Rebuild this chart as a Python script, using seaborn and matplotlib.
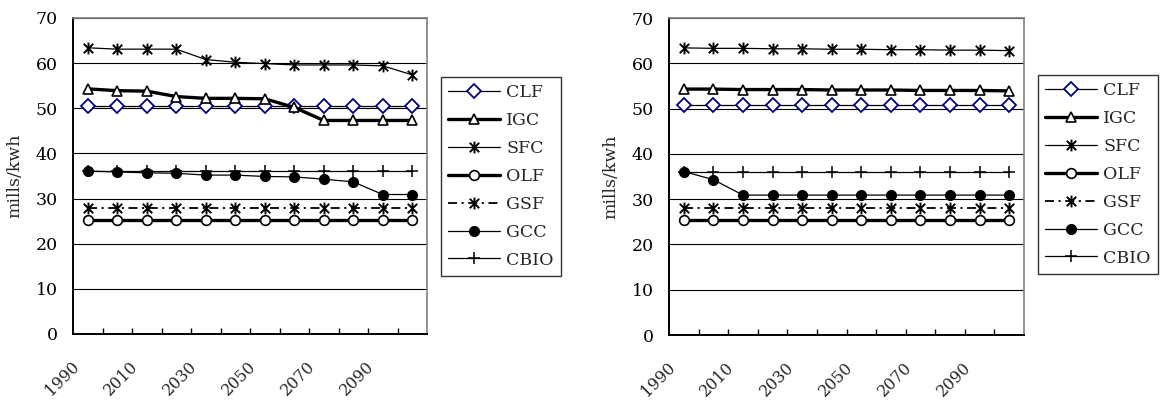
import matplotlib
matplotlib.use("Agg")
import matplotlib.pyplot as plt
from matplotlib.path import Path
from matplotlib.transforms import ScaledTranslation
import numpy as np
import pandas as pd
import seaborn as sns

# Decades on the category axis
years = [1990, 2000, 2010, 2020, 2030, 2040, 2050, 2060, 2070, 2080, 2090, 2100]
year_labels = ["1990", "", "2010", "", "2030", "", "2050", "", "2070", "", "2090", ""]
series_names = ["CLF", "IGC", "SFC", "OLF", "GSF", "GCC", "CBIO"]

# Left panel (mills/kwh)
clf_a = [50.6, 50.6, 50.6, 50.6, 50.6, 50.6, 50.6, 50.6, 50.6, 50.6, 50.6, 50.6]
igc_a = [54.3, 53.9, 53.8, 52.6, 52.2, 52.2, 52.1, 50.2, 47.3, 47.3, 47.3, 47.3]
sfc_a = [63.4, 63.1, 63.1, 63.1, 60.8, 60.2, 59.9, 59.6, 59.6, 59.6, 59.4, 57.4]
olf_a = [25.3, 25.3, 25.3, 25.3, 25.3, 25.3, 25.3, 25.3, 25.3, 25.3, 25.3, 25.3]
gsf_a = [28.0, 28.0, 28.0, 28.0, 28.0, 28.0, 28.0, 28.0, 28.0, 28.0, 28.0, 28.0]
gcc_a = [36.1, 35.9, 35.7, 35.6, 35.2, 35.2, 34.9, 34.8, 34.3, 33.7, 30.9, 30.9]
cbio_a = [36.1, 36.1, 36.1, 36.1, 36.1, 36.1, 36.1, 36.1, 36.1, 36.1, 36.1, 36.1]

# Right panel (mills/kwh)
clf_b = [50.7, 50.7, 50.7, 50.7, 50.7, 50.7, 50.7, 50.7, 50.7, 50.7, 50.7, 50.7]
igc_b = [54.3, 54.3, 54.2, 54.2, 54.2, 54.1, 54.1, 54.1, 54.0, 54.0, 54.0, 53.9]
sfc_b = [63.4, 63.3, 63.3, 63.2, 63.2, 63.1, 63.1, 63.0, 63.0, 62.9, 62.9, 62.8]
olf_b = [25.3, 25.3, 25.3, 25.3, 25.3, 25.3, 25.3, 25.3, 25.3, 25.3, 25.3, 25.3]
gsf_b = [28.0, 28.0, 28.0, 28.0, 28.0, 28.0, 28.0, 28.0, 28.0, 28.0, 28.0, 28.0]
gcc_b = [36.1, 34.3, 30.9, 30.9, 30.9, 30.9, 30.9, 30.9, 30.9, 30.9, 30.9, 30.9]
cbio_b = [36.1, 36.1, 36.1, 36.1, 36.1, 36.1, 36.1, 36.1, 36.1, 36.1, 36.1, 36.1]

y_ticks = [0, 10, 20, 30, 40, 50, 60, 70]

sns.set_theme(style="white")
plt.rcParams["font.family"] = ["DejaVu Serif"]
plt.rcParams["font.size"] = 12.5

# Star marker: an "x" with a vertical stroke through it
star = Path(
    [(-1, -1), (1, 1), (-1, 1), (1, -1), (0, -1.25), (0, 1.25)],
    [Path.MOVETO, Path.LINETO, Path.MOVETO, Path.LINETO, Path.MOVETO, Path.LINETO],
)

styles = {
    "CLF": dict(color="black", lw=0.9, marker="D", ms=7, mfc="white", mec="#000080", mew=1.3),
    "IGC": dict(color="black", lw=2.4, marker="^", ms=7.5, mfc="white", mec="black", mew=1.2),
    "SFC": dict(color="black", lw=0.9, marker=star, ms=8.5, mfc="black", mec="black", mew=1.4),
    "OLF": dict(color="black", lw=2.4, marker="o", ms=7, mfc="white", mec="black", mew=1.2),
    "GSF": dict(color="black", lw=1.3, ls=(0, (5, 2.5, 1.2, 2.5)), marker=star, ms=8.5,
                mfc="black", mec="black", mew=1.4),
    "GCC": dict(color="black", lw=0.9, marker="o", ms=7, mfc="black", mec="black", mew=1.0),
    "CBIO": dict(color="black", lw=0.9, marker="+", ms=8, mfc="black", mec="black", mew=1.1),
}

panels = [
    (dict(CLF=clf_a, IGC=igc_a, SFC=sfc_a, OLF=olf_a, GSF=gsf_a, GCC=gcc_a, CBIO=cbio_a),
     [73 / 1163, 67 / 401, 354 / 1163, 316 / 401], (441 / 1163, 1 - 77 / 401)),
    (dict(CLF=clf_b, IGC=igc_b, SFC=sfc_b, OLF=olf_b, GSF=gsf_b, GCC=gcc_b, CBIO=cbio_b),
     [669 / 1163, 66 / 401, 355 / 1163, 317 / 401], (1038 / 1163, 1 - 75 / 401)),
]

fig = plt.figure(figsize=(11.63, 4.01), dpi=100)
fig.patch.set_facecolor("white")

for values, rect, legend_anchor in panels:
    ax = fig.add_axes(rect)
    ax.set_facecolor("white")
    idx = np.arange(len(years))
    df = pd.DataFrame({"pos": np.tile(idx, len(series_names)),
                       "series": np.repeat(series_names, len(years)),
                       "value": np.concatenate([values[s] for s in series_names])})
    for name in series_names:
        st = styles[name]
        sub = df[df["series"] == name]
        sns.lineplot(data=sub, x="pos", y="value", ax=ax, label=name,
                     color=st["color"], linewidth=st["lw"], linestyle=st.get("ls", "-"),
                     marker=st["marker"], markersize=st["ms"],
                     markerfacecolor=st["mfc"], markeredgecolor=st["mec"],
                     markeredgewidth=st["mew"], zorder=3)

    ax.set_xlim(-0.5, len(years) - 0.5)
    ax.set_ylim(0, 70)
    ax.set_yticks(y_ticks)
    ax.yaxis.grid(True, color="black", linewidth=0.8)
    ax.set_axisbelow(True)
    ax.tick_params(axis="y", length=0, pad=11, labelsize=12.5, colors="black")

    ax.set_xticks(idx)
    ax.set_xticklabels(year_labels, rotation=45, ha="right", va="top")
    ax.set_xticks(np.arange(0.5, len(years) - 0.5, 1.0), minor=True)
    ax.tick_params(axis="x", which="major", length=0, pad=17, labelsize=11.5)
    ax.tick_params(axis="x", which="minor", direction="in", length=4.5, width=1.0,
                   color="black", bottom=True)
    offset = ScaledTranslation(-5 / 100, 0, fig.dpi_scale_trans)
    for lab in ax.get_xticklabels():
        lab.set_transform(lab.get_transform() + offset)

    ax.set_xlabel("")
    ax.set_ylabel("mills/kwh", fontsize=12.5, labelpad=9)

    for side in ("left", "bottom"):
        ax.spines[side].set_color("black")
        ax.spines[side].set_linewidth(1.4)
    for side in ("top", "right"):
        ax.spines[side].set_color("#808080")
        ax.spines[side].set_linewidth(1.2)

    handles, labels = ax.get_legend_handles_labels()
    ax.get_legend().remove()
    leg = fig.legend(handles, labels, loc="upper left", bbox_to_anchor=legend_anchor,
                     bbox_transform=fig.transFigure, frameon=True, fancybox=False,
                     edgecolor="black", fontsize=12.5, handlelength=3.0,
                     handletextpad=0.35, labelspacing=0.63, borderpad=0.4,
                     borderaxespad=0)
    leg.get_frame().set_linewidth(1.0)

fig.savefig("out.png", dpi=100, facecolor="white")
